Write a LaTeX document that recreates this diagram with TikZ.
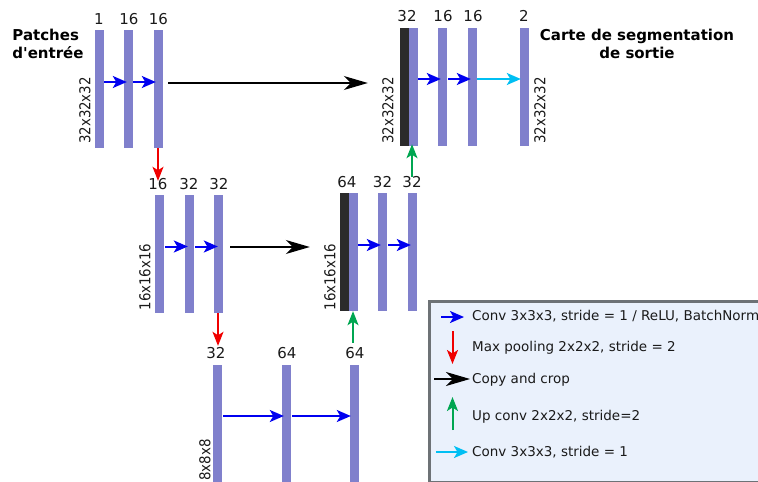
\documentclass[tikz,border=0pt]{standalone}
\usepackage{fontspec}
\setmainfont{DejaVu Sans}
\newfontfamily\plainf{DejaVu Sans}
\usetikzlibrary{arrows.meta}
\definecolor{barc}{HTML}{8080CC}
\definecolor{darkc}{HTML}{2B2B2B}
\definecolor{bluec}{HTML}{0000F0}
\definecolor{redc}{HTML}{F00000}
\definecolor{greenc}{HTML}{00A651}
\definecolor{cyanc}{HTML}{00BFF3}
\definecolor{legfill}{HTML}{EAF1FC}
\definecolor{legline}{HTML}{6D7276}
\definecolor{txt}{HTML}{1A1A1A}
\newcommand{\squeezed}[1]{\scalebox{0.89}[1]{#1}}
\tikzset{
  x=1pt,y=-1pt,
  barb/.style={fill=barc,draw=none,inner sep=0,minimum width=9pt,minimum height=118pt},
  bard/.style={fill=darkc,draw=none,inner sep=0,minimum width=9pt,minimum height=118pt},
  num/.style={inner sep=0,text=txt,font=\fontsize{15}{17}\selectfont},
  dim/.style={inner sep=0,text=txt,rotate=90,font=\fontsize{15}{17}\selectfont},
  ttl/.style={inner sep=0,text=black,align=center,font=\plainf\fontsize{15}{18}\selectfont\bfseries},
  legt/.style={inner sep=0,anchor=west,text=txt,font=\fontsize{13.5}{15}\selectfont},
  conv/.style={bluec,line width=2pt,-{Stealth[length=14pt,width=12pt,inset=3.5pt]}},
  pool/.style={redc,line width=2pt,-{Stealth[length=14pt,width=11pt,inset=3.5pt]}},
  upc/.style={greenc,line width=2pt,-{Stealth[length=14pt,width=11pt,inset=3.5pt]}},
  last/.style={cyanc,line width=2pt,-{Stealth[length=14pt,width=12pt,inset=3.5pt]}},
  copyc/.style={black,line width=1.2pt,-{Stealth[length=24pt,width=14pt,inset=7pt]}},
}
\begin{document}
\begin{tikzpicture}
\useasboundingbox (0,0) rectangle (758,482);
\clip (0,0) rectangle (758,482);
% bars
\node[barb] (a1) at (99.5,89) {};
\node[barb] (a2) at (128.5,89) {};
\node[barb] (a3) at (158.5,89) {};
\node[barb] (b1) at (159.5,254) {};
\node[barb] (b2) at (189.5,254) {};
\node[barb] (b3) at (218.5,254) {};
\node[barb] (c1) at (217.5,424) {};
\node[barb] (c2) at (286.5,424) {};
\node[barb] (c3) at (354.5,424) {};
\node[bard] (d0) at (344.5,252) {};
\node[barb] (d1) at (353.5,252) {};
\node[barb] (d2) at (382.5,252) {};
\node[barb] (d3) at (412.5,252) {};
\node[bard] (e0) at (404.5,87) {};
\node[barb] (e1) at (413.5,87) {};
\node[barb] (e2) at (442.5,87) {};
\node[barb] (e3) at (472.5,87) {};
\node[barb] (e4) at (524.5,87) {};
% numbers
\node[num] (n1) at (99,19) {1};
\node[num] (n2) at (129,19) {16};
\node[num] (n3) at (158.5,19) {16};
\node[num] (n4) at (158,184) {16};
\node[num] (n5) at (189,184) {32};
\node[num] (n6) at (219,184) {32};
\node[num] (n7) at (347,182) {64};
\node[num] (n8) at (382.5,182) {32};
\node[num] (n9) at (412,182) {32};
\node[num] (n10) at (216,353) {32};
\node[num] (n11) at (287,353) {64};
\node[num] (n12) at (355,353) {64};
\node[num] (n13) at (407,16) {32};
\node[num] (n14) at (443,16) {16};
\node[num] (n15) at (473,16) {16};
\node[num] (n16) at (524,16) {2};
% dimensions
\node[dim] (s1) at (85,110.5) {\squeezed{32x32x32}};
\node[dim] (s2) at (145,277) {\squeezed{16x16x16}};
\node[dim] (s3) at (330,277) {\squeezed{16x16x16}};
\node[dim] (s4) at (205,460) {\squeezed{8x8x8}};
\node[dim] (s5) at (388,110.5) {\squeezed{32x32x32}};
\node[dim] (s6) at (540,110.5) {\squeezed{32x32x32}};
% titles
\node[ttl,align=left] (t1) at (48,44) {Patches\\d'entrée};
\node[ttl] (t2) at (637,44) {Carte de segmentation\\de sortie};
% connectors
\draw[conv] ([yshift=7pt]a1.east) -- ([xshift=3pt,yshift=7pt]a2.west);
\draw[conv] ([yshift=7pt]a2.east) -- ([xshift=2pt,yshift=7pt]a3.west);
\draw[copyc] ([xshift=5pt,yshift=6pt]a3.east) -- ([xshift=-32pt,yshift=4pt]e0.west);
\draw[pool] ([xshift=-0.5pt]a3.south) -- ([xshift=-1.5pt,yshift=14pt]b1.north);
\draw[conv] ([xshift=1pt,yshift=7.5pt]b1.east) -- ([xshift=3pt,yshift=7.5pt]b2.west);
\draw[conv] ([xshift=1pt,yshift=7.5pt]b2.east) -- ([xshift=4pt,yshift=7.5pt]b3.west);
\draw[copyc] ([xshift=7pt,yshift=7pt]b3.east) -- ([xshift=-30pt,yshift=5pt]d0.west);
\draw[pool] ([xshift=-0.5pt]b3.south) -- ([xshift=0.5pt,yshift=19pt]c1.north);
\draw[conv] ([xshift=1pt,yshift=8pt]c1.east) -- ([xshift=2pt,yshift=8pt]c2.west);
\draw[conv] ([xshift=1pt,yshift=8pt]c2.east) -- ([xshift=1pt,yshift=8pt]c3.west);
\draw[upc] ([xshift=-1.5pt,yshift=22pt]c3.north) -- ([xshift=-0.5pt]d1.south);
\draw[conv] ([yshift=7pt]d1.east) -- ([xshift=3pt,yshift=7pt]d2.west);
\draw[conv] ([xshift=1pt,yshift=7pt]d2.east) -- ([xshift=3pt,yshift=7pt]d3.west);
\draw[upc] ([xshift=-0.5pt,yshift=16pt]d3.north) -- ([xshift=-1.5pt,yshift=2pt]e1.south);
\draw[conv] ([yshift=8pt]e1.east) -- ([xshift=3pt,yshift=8pt]e2.west);
\draw[conv] ([xshift=1pt,yshift=8pt]e2.east) -- ([xshift=3pt,yshift=8pt]e3.west);
\draw[last] ([yshift=8pt]e3.east) -- ([xshift=1pt,yshift=8pt]e4.west);
% legend
\node[draw=legline,line width=2.5pt,fill=legfill,anchor=north west,minimum width=340pt,minimum height=181pt,inner sep=0] (leg) at (428,300) {};
\node[legt] (l1) at (472,316.5) {Conv 3x3x3, stride = 1 / ReLU, BatchNorm};
\node[legt] (l2) at (472,347.5) {Max pooling 2x2x2, stride = 2};
\node[legt] (l3) at (472,379.5) {Copy and crop};
\node[legt] (l4) at (472,416.5) {Up conv 2x2x2, stride=2};
\node[legt] (l5) at (472,452.5) {Conv 3x3x3, stride = 1};
\coordinate (k1a) at (441,317);\coordinate (k1b) at (464,317);
\coordinate (k2a) at (452.5,331);\coordinate (k2b) at (452.5,364);
\coordinate (k3a) at (434,379);\coordinate (k3b) at (470,379);
\coordinate (k4a) at (452.5,430);\coordinate (k4b) at (452.5,397);
\coordinate (k5a) at (436,452);\coordinate (k5b) at (468,452);
\draw[conv] (k1a) -- (k1b);
\draw[pool] (k2a) -- (k2b);
\draw[copyc] (k3a) -- (k3b);
\draw[upc] (k4a) -- (k4b);
\draw[last] (k5a) -- (k5b);
\end{tikzpicture}
\end{document}
